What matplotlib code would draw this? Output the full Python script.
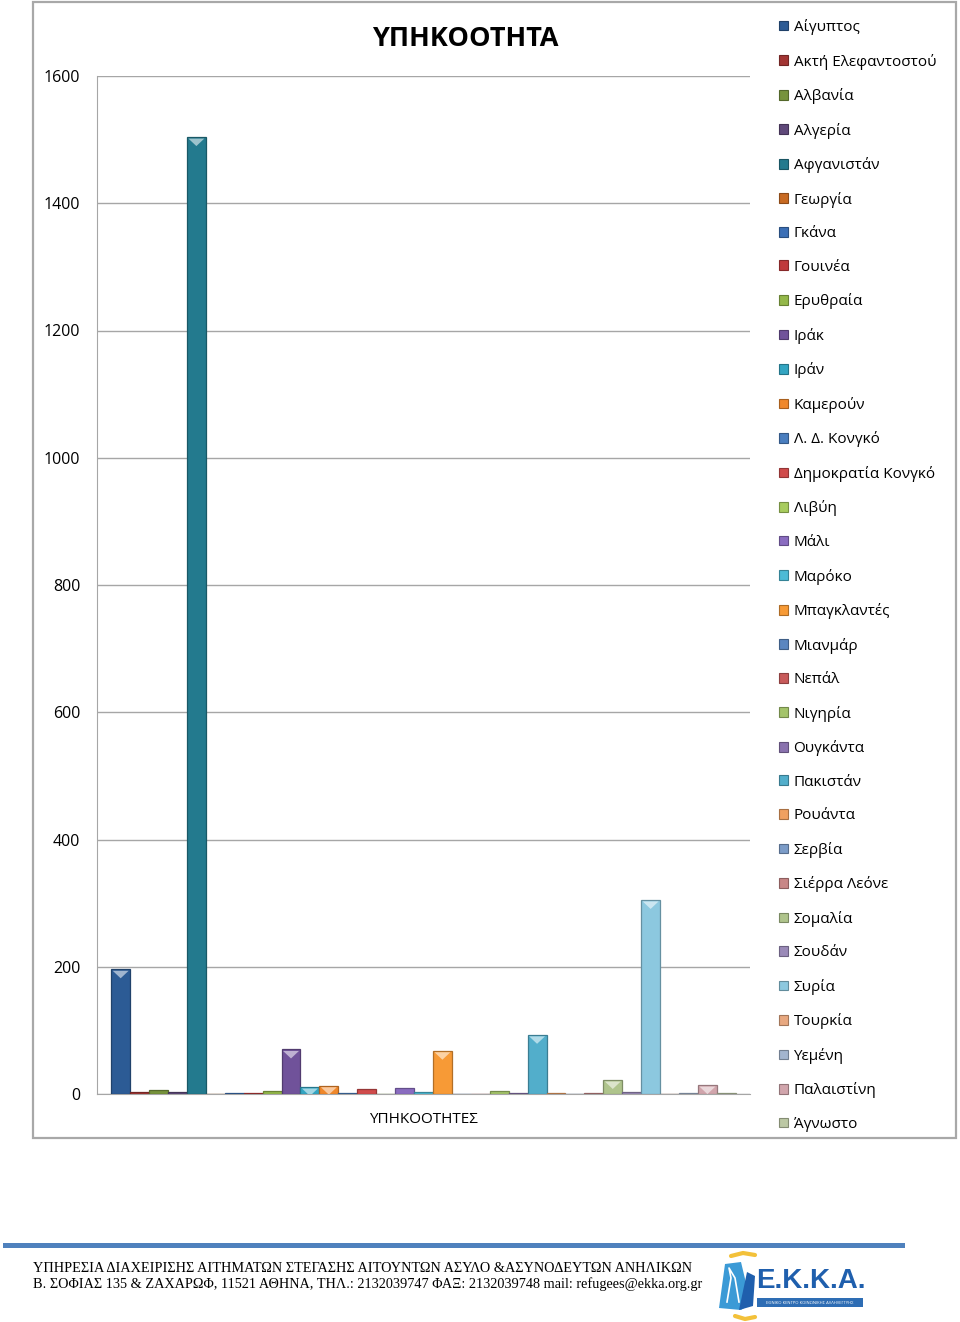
import matplotlib
matplotlib.use("Agg")
import matplotlib.pyplot as plt
import matplotlib.patches as patches
from matplotlib.colors import to_rgb
import numpy as np

plt.rcParams["font.family"] = ["Open Sans", "DejaVu Sans"]

# data
category = "ΥΠΗΚΟΟΤΗΤΕΣ"
countries = [
    "Αίγυπτος", "Ακτή Ελεφαντοστού", "Αλβανία", "Αλγερία", "Αφγανιστάν",
    "Γεωργία", "Γκάνα", "Γουινέα", "Ερυθραία", "Ιράκ", "Ιράν", "Καμερούν",
    "Λ. Δ. Κονγκό", "Δημοκρατία Κονγκό", "Λιβύη", "Μάλι", "Μαρόκο",
    "Μπαγκλαντές", "Μιανμάρ", "Νεπάλ", "Νιγηρία", "Ουγκάντα", "Πακιστάν",
    "Ρουάντα", "Σερβία", "Σιέρρα Λεόνε", "Σομαλία", "Σουδάν", "Συρία",
    "Τουρκία", "Υεμένη", "Παλαιστίνη", "Άγνωστο",
]
counts = [
    196, 3, 7, 3, 1504,
    0, 2, 1, 5, 70, 11, 13,
    2, 8, 0, 9, 3,
    68, 0, 0, 5, 1, 93,
    1, 0, 1, 22, 3, 305,
    0, 1, 14, 1,
]
colors = [
    "#2c5b95", "#a23533", "#77933c", "#5f497a", "#237a8e",
    "#c86a22", "#3b6fb6", "#c0393b", "#94b84a", "#70529a", "#33a5c2", "#f0882b",
    "#4a7ebf", "#d04b4b", "#a8cc5e", "#8a6cc0", "#4cbbd6",
    "#f79a36", "#5a86c0", "#c85a5a", "#a4c46a", "#8a72ae", "#52aecb",
    "#f0a060", "#7c9cc8", "#c88686", "#afc48c", "#9a8ab8", "#8cc8df",
    "#e8a880", "#a3b5cf", "#d1a5ac", "#bcc8a4",
]
yticks = [0, 200, 400, 600, 800, 1000, 1200, 1400, 1600]

W, H = 960, 1322
fig = plt.figure(figsize=(W / 100, H / 100), dpi=100)


def fx(px):
    return px / W


def fy(py):
    return 1 - py / H


# chart area frame
fig.add_artist(patches.Rectangle(
    (fx(33), fy(1138)), fx(956) - fx(33), fy(2) - fy(1138),
    transform=fig.transFigure, fill=False, edgecolor="#a8a8a8", lw=1.6))

ax = fig.add_axes([fx(97), fy(1094), fx(750) - fx(97), fy(76) - fy(1094)])

n = len(counts)
xpos = np.arange(n) - (n - 1) / 2
bars = ax.bar(xpos, counts, width=1.0, color=colors, zorder=3)
for b, c in zip(bars, colors):
    dark = tuple(v * 0.72 for v in to_rgb(c))
    b.set_edgecolor(dark)
    b.set_linewidth(0.9)

ax.set_xlim(xpos[0] - 1.25, xpos[-1] + 1.25)
ax.set_ylim(0, 1600)

# bevel highlight on top of visible bars
units_per_px = 1600 / (1094 - 76)
for b, c, v in zip(bars, colors, counts):
    if v < 10:
        continue
    light = tuple(min(1, x + (1 - x) * 0.55) for x in to_rgb(c))
    x0 = b.get_x() + 0.08
    x1 = b.get_x() + b.get_width() - 0.08
    top = b.get_height()
    d = 9 * units_per_px
    ax.add_patch(patches.Polygon(
        [(x0, top - 1.5 * units_per_px), (x1, top - 1.5 * units_per_px),
         ((x0 + x1) / 2, top - d)],
        closed=True, facecolor=light, edgecolor="none", zorder=4))

ax.set_yticks(yticks)
ax.set_yticklabels([str(t) for t in yticks], fontsize=11.5)
ax.set_xticks([0])
ax.set_xticklabels([category], fontsize=11)
ax.tick_params(axis="both", length=0)
ax.tick_params(axis="y", pad=12)
ax.tick_params(axis="x", pad=13)
ax.grid(axis="y", color="#a6a6a6", lw=1, zorder=0)
for side in ["top", "right"]:
    ax.spines[side].set_visible(False)
ax.spines["left"].set_color("#a6a6a6")
ax.spines["bottom"].set_color("#a6a6a6")

fig.text(fx(465), fy(39), "ΥΠΗΚΟΟΤΗΤΑ", fontsize=19.5, fontweight="bold",
         ha="center", va="center")

handles = [patches.Patch(facecolor=c, edgecolor=tuple(v * 0.7 for v in to_rgb(c)), lw=0.8)
           for c in colors]
ax.legend(handles, countries, loc="upper left",
          bbox_to_anchor=(fx(779), fy(19)), bbox_transform=fig.transFigure,
          frameon=False, fontsize=11, handlelength=0.6, handleheight=0.6,
          handletextpad=0.35, labelspacing=1.213, borderpad=0, borderaxespad=0)

# footer
fig.add_artist(patches.Rectangle(
    (fx(3), fy(1248)), fx(905) - fx(3), fy(1243) - fy(1248),
    transform=fig.transFigure, facecolor="#4f81bd", edgecolor="none"))
footer_lines = [
    "ΥΠΗΡΕΣΙΑ ΔΙΑΧΕΙΡΙΣΗΣ ΑΙΤΗΜΑΤΩΝ ΣΤΕΓΑΣΗΣ ΑΙΤΟΥΝΤΩΝ ΑΣΥΛΟ &ΑΣΥΝΟΔΕΥΤΩΝ ΑΝΗΛΙΚΩΝ",
    "Β. ΣΟΦΙΑΣ 135 & ΖΑΧΑΡΩΦ, 11521 ΑΘΗΝΑ, ΤΗΛ.: 2132039747 ΦΑΞ: 2132039748 mail: refugees@ekka.org.gr",
]
for i, line in enumerate(footer_lines):
    fig.text(fx(33), fy(1268 + 16 * i), line, family="Liberation Serif",
             fontsize=10.3, ha="left", va="center")

# logo
lax = fig.add_axes([fx(715), fy(1322), fx(865) - fx(715), fy(1248) - fy(1322)])
lax.set_xlim(0, 150)
lax.set_ylim(0, 74)
lax.axis("off")
lax.plot([16, 28, 40], [66, 69, 67], color="#f3c13a", lw=3, solid_capstyle="round")
lax.plot([20, 30, 40], [6, 3, 5], color="#f3c13a", lw=3, solid_capstyle="round")
lax.add_patch(patches.Polygon([(4, 14), (10, 58), (26, 60), (36, 18), (26, 12)],
                              closed=True, facecolor="#3b9ad6", edgecolor="none"))
lax.add_patch(patches.Polygon([(24, 12), (32, 50), (40, 46), (38, 16)],
                              closed=True, facecolor="#1f5fad", edgecolor="none"))
lax.plot([12, 16, 14, 20, 24], [20, 44, 54, 44, 20], color="white", lw=1.2)
lax.text(96, 41, "Ε.Κ.Κ.Α.", color="#1f5fad", fontsize=20, fontweight="bold",
         ha="center", va="center", family="Liberation Sans")
lax.add_patch(patches.Rectangle((42, 15), 106, 9, facecolor="#2e6db4", edgecolor="none"))
lax.text(95, 19.5, "ΕΘΝΙΚΟ ΚΕΝΤΡΟ ΚΟΙΝΩΝΙΚΗΣ ΑΛΛΗΛΕΓΓΥΗΣ", color="white",
         fontsize=3, ha="center", va="center")

fig.savefig("out.png", dpi=100)
